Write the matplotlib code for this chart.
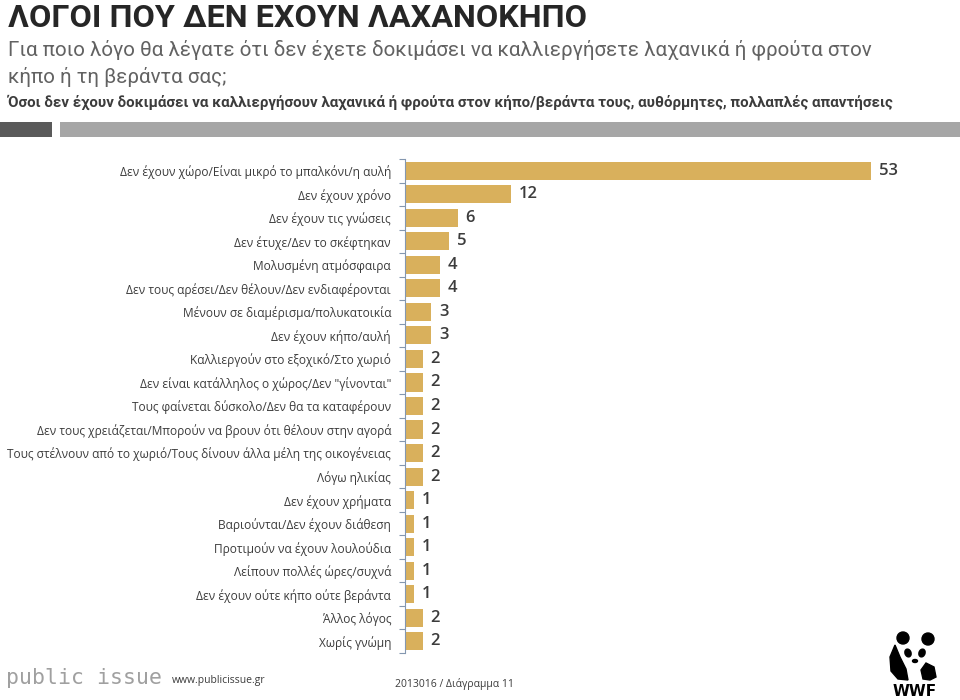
import numpy as np
import matplotlib
matplotlib.use("Agg")
import matplotlib.pyplot as plt
from matplotlib.patches import Rectangle, Ellipse, Circle, Polygon

# data
categories = [
    "Δεν έχουν χώρο/Είναι μικρό το μπαλκόνι/η αυλή",
    "Δεν έχουν χρόνο",
    "Δεν έχουν τις γνώσεις",
    "Δεν έτυχε/Δεν το σκέφτηκαν",
    "Μολυσμένη ατμόσφαιρα",
    "Δεν τους αρέσει/Δεν θέλουν/Δεν ενδιαφέρονται",
    "Μένουν σε διαμέρισμα/πολυκατοικία",
    "Δεν έχουν κήπο/αυλή",
    "Καλλιεργούν στο εξοχικό/Στο χωριό",
    "Δεν είναι κατάλληλος ο χώρος/Δεν \"γίνονται\"",
    "Τους φαίνεται δύσκολο/Δεν θα τα καταφέρουν",
    "Δεν τους χρειάζεται/Μπορούν να βρουν ότι θέλουν στην αγορά",
    "Τους στέλνουν από το χωριό/Τους δίνουν άλλα μέλη της οικογένειας",
    "Λόγω ηλικίας",
    "Δεν έχουν χρήματα",
    "Βαριούνται/Δεν έχουν διάθεση",
    "Προτιμούν να έχουν λουλούδια",
    "Λείπουν πολλές ώρες/συχνά",
    "Δεν έχουν ούτε κήπο ούτε βεράντα",
    "Άλλος λόγος",
    "Χωρίς γνώμη",
]
values = [53, 12, 6, 5, 4, 4, 3, 3, 2, 2, 2, 2, 2, 2, 1, 1, 1, 1, 1, 2, 2]

title = "ΛΟΓΟΙ ΠΟΥ ΔΕΝ ΕΧΟΥΝ ΛΑΧΑΝΟΚΗΠΟ"
question = ["Για ποιο λόγο θα λέγατε ότι δεν έχετε δοκιμάσει να καλλιεργήσετε λαχανικά ή φρούτα στον",
            "κήπο ή τη βεράντα σας;"]
base_note = "Όσοι δεν έχουν δοκιμάσει να καλλιεργήσουν λαχανικά ή φρούτα στον κήπο/βεράντα τους, αυθόρμητες, πολλαπλές απαντήσεις"

W, H = 960, 700
BAR = "#D9B05C"
TXT = "#3c3c3c"
HEAD_FONT = ['Roboto', 'DejaVu Sans']

plt.rcParams['font.family'] = ['Open Sans', 'DejaVu Sans']

fig = plt.figure(figsize=(W / 100, H / 100), dpi=100)
fig.patch.set_facecolor("white")


def fx(x):
    return x / W


def fy(y):
    return 1 - y / H


def fit_width(t, width_px):
    # shrink/grow a text so it spans the same width as in the reference
    fig.canvas.draw()
    bb = t.get_window_extent(fig.canvas.get_renderer())
    t.set_fontsize(t.get_fontsize() * width_px / bb.width)


# header
t_title = fig.text(fx(8), fy(27), title, fontsize=22, fontweight="bold", color="#262626",
                   family=HEAD_FONT, va="baseline", ha="left")
t_q1 = fig.text(fx(8), fy(56), question[0], fontsize=14, color="#626262",
                family=HEAD_FONT, va="baseline", ha="left")
t_q2 = fig.text(fx(8), fy(83), question[1], fontsize=14, color="#626262",
                family=HEAD_FONT, va="baseline", ha="left")
t_note = fig.text(fx(8), fy(107), base_note, fontsize=10, fontweight="bold", color=TXT,
                  family=HEAD_FONT, va="baseline", ha="left")
fit_width(t_title, 577)
fit_width(t_q1, 872)
t_q2.set_fontsize(t_q1.get_fontsize())
fit_width(t_note, 889)

fig.add_artist(Rectangle((fx(0), fy(137)), fx(52), 15 / H, transform=fig.transFigure,
                         facecolor="#5a5a5a", edgecolor="none"))
fig.add_artist(Rectangle((fx(60), fy(137)), fx(900), 15 / H, transform=fig.transFigure,
                         facecolor="#a6a6a6", edgecolor="none"))

# bar chart
ax = fig.add_axes([fx(405), fy(653), 528 / W, (653 - 159) / H])
y = np.arange(len(categories))
ax.barh(y, values, height=0.77, color=BAR, edgecolor="none")
for i, v in enumerate(values):
    ax.text(v + 0.9, i, str(v), va="center", ha="left", fontsize=12,
            fontweight="semibold", color=TXT)

ax.set_xlim(0, 60)
ax.set_ylim(len(categories) - 0.5, -0.5)
ax.set_yticks(y)
ax.set_yticklabels(categories, fontsize=8.6, color=TXT)
ax.set_yticks(np.arange(-0.5, len(categories)), minor=True)
ax.tick_params(axis="y", which="major", length=0, pad=10)
ax.tick_params(axis="y", which="minor", length=4, color="#8497B0", width=0.8)
ax.set_xticks([])
for s in ["top", "right", "bottom"]:
    ax.spines[s].set_visible(False)
ax.spines["left"].set_color("#8497B0")
ax.spines["left"].set_linewidth(0.8)

# footer
fig.text(fx(6), fy(678), "public issue", fontsize=15.5, family="DejaVu Sans Mono",
         color="#a0a0a0", va="center", ha="left")
fig.text(fx(172), fy(681), "www.publicissue.gr", fontsize=7.5, color=TXT,
         va="center", ha="left")
fig.text(fx(395), fy(684), "2013016 / Διάγραμμα 11", fontsize=7.5, color=TXT,
         va="center", ha="left")

# rough WWF panda mark
pa = fig.add_axes([fx(884), fy(699), 64 / W, 70 / H])
pa.set_xlim(0, 64)
pa.set_ylim(0, 70)
pa.axis("off")
pa.add_patch(Circle((19, 61), 6, color="black"))
pa.add_patch(Circle((44, 60), 6, color="black"))
pa.add_patch(Polygon([[11, 54], [6, 42], [7, 28], [14, 20], [24, 19], [22, 30], [16, 42]],
                     closed=True, color="black"))
pa.add_patch(Polygon([[42, 36], [50, 32], [52, 22], [46, 19], [39, 20], [37, 29]],
                     closed=True, color="black"))
pa.add_patch(Ellipse((24, 46), 6, 8, angle=20, color="black"))
pa.add_patch(Ellipse((38, 46), 6, 8, angle=-20, color="black"))
pa.add_patch(Ellipse((31, 38), 5, 3, color="black"))
pa.text(31, 7, "WWF", fontsize=11, fontweight="bold", color="black",
        family="DejaVu Sans", ha="center", va="center")

fig.savefig("out.png", dpi=100)
